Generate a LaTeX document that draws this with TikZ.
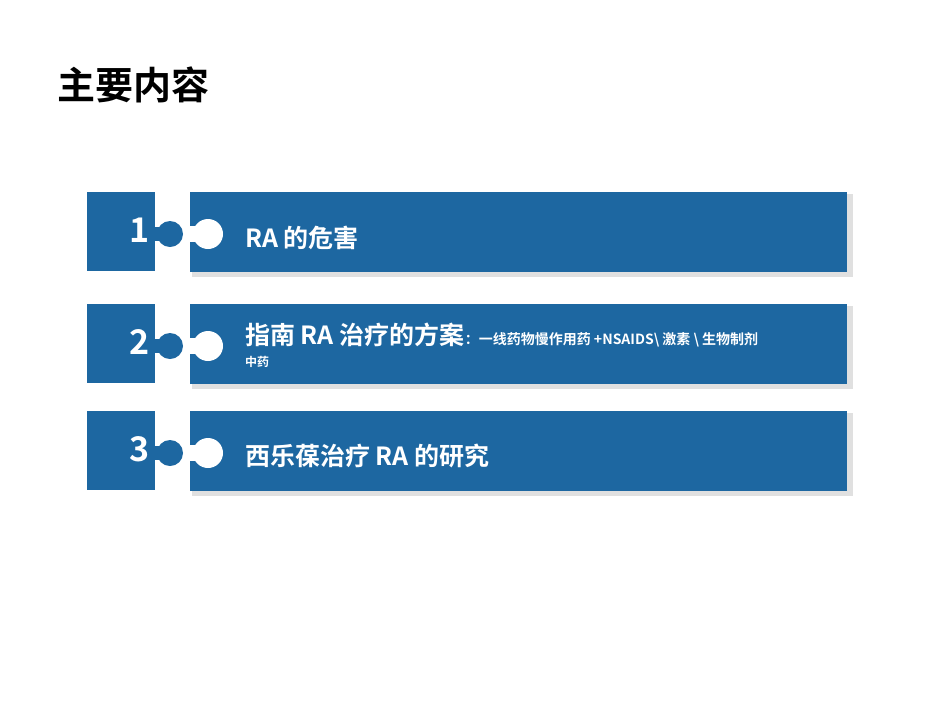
\documentclass[tikz,border=0pt]{standalone}
\usepackage{fontspec}
\newfontfamily\cjk{Noto Sans CJK SC}
\newfontfamily\cjkb{Noto Sans CJK SC Bold}
\definecolor{pblue}{HTML}{1D67A1}
\begin{document}
\begin{tikzpicture}[x=1pt,y=-1pt,
  blk/.style={fill=pblue},
  num/.style={text=white,font=\cjkb\fontsize{34}{34}\selectfont,anchor=center},
  lbl/.style={text=white,font=\cjkb\fontsize{25}{25}\selectfont,anchor=west,inner sep=0},
  sml/.style={text=white,font=\cjkb\fontsize{14}{14}\selectfont,inner sep=0}]
\useasboundingbox (0,0) rectangle (950,713);
\node[anchor=west,inner sep=0,font=\cjkb\fontsize{38}{38}\selectfont] (title) at (57,85) {主要内容};
\foreach \i/\t in {1/192,2/304,3/411}{
  \pgfmathsetmacro\c{\t+42}
  % shadow
  \fill[black!25] (193,\t+3) rectangle (851,\t+83);
  \fill[black!12] (192,\t+2) rectangle (853,\t+85);
  \fill[blk] (190,\t) rectangle (847,\t+80);
  \fill[white] (208,\c) circle (15);
  \fill[white] (189,\c-8) rectangle (205,\c+8);
  \fill[blk] (87,\t) rectangle (155,\t+79);
  \fill[blk] (170,\c) circle (13);
  \fill[blk] (154,\c-7) rectangle (165,\c+7);
  \node[num] (n\i) at (140,\c-4) {\i};
}
\node[lbl] (l1) at (245,238) {RA 的危害};
\node[lbl] (l2) at (245,335) {指南 RA 治疗的方案};
\node[sml,anchor=base west] (l2b) at (l2.base east) {：一线药物慢作用药 +NSAIDS\textbackslash{} 激素 \textbackslash{} 生物制剂};
\node[sml,anchor=west,font=\cjkb\fontsize{12}{12}\selectfont] (l2c) at (245,362) {中药};
\node[lbl] (l3) at (245,456) {西乐葆治疗 RA 的研究};
\end{tikzpicture}
\end{document}
